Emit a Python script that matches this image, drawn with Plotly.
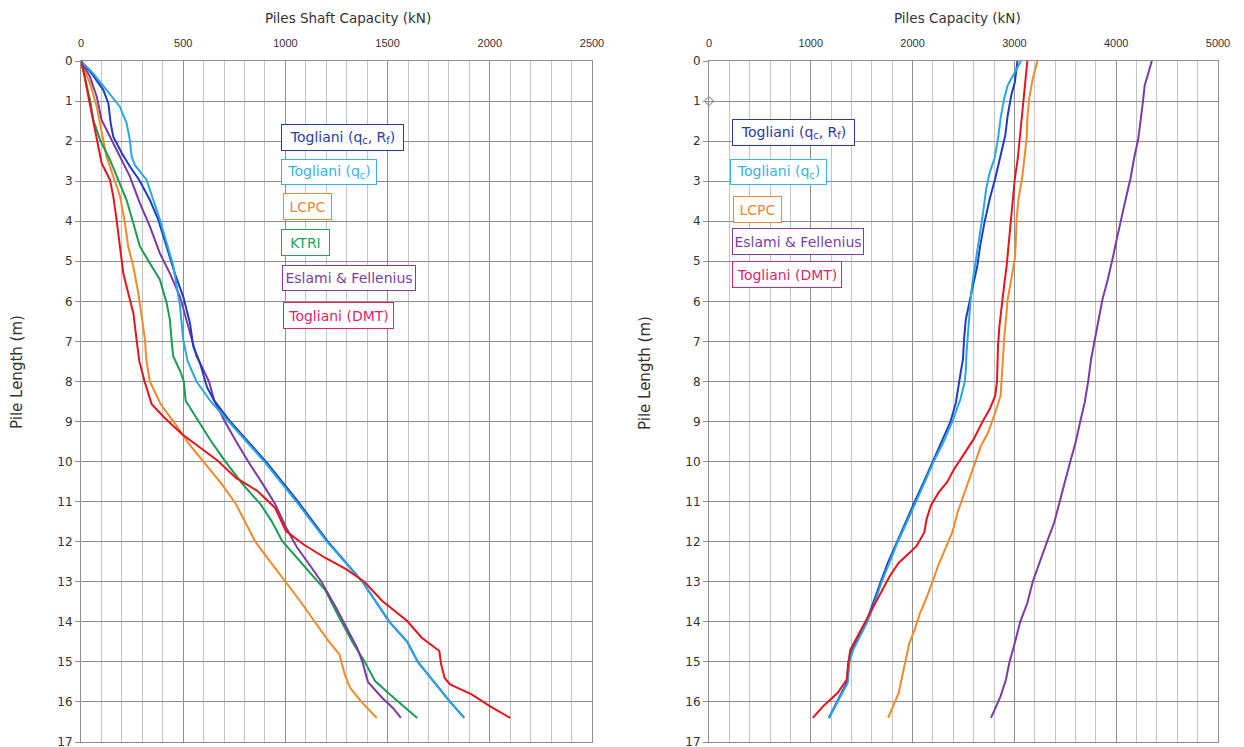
import plotly.graph_objects as go

W, H = 1244, 747

# ---------------- Left chart: Piles Shaft Capacity (kN) ----------------
sh_tq_rf_d = [0, 0.31, 0.72, 1.06, 1.55, 1.89, 2.3, 2.64, 2.97, 3.47, 3.96, 4.63, 5.3, 5.88, 6.54, 7.12, 7.54, 8.15, 8.48, 9, 9.48, 10, 11, 12, 13, 14, 14.5, 15, 15.5, 16, 16.4]
sh_tq_rf_v = [0, 52, 109, 134, 145, 158, 200, 240, 285, 337, 378, 419, 459, 500, 533, 549, 582, 617, 652, 730, 815, 905, 1062, 1208, 1377, 1509, 1596, 1648, 1727, 1806, 1875]

sh_tq_d = [0, 0.31, 0.72, 1.14, 1.55, 1.97, 2.39, 2.6, 2.97, 3.96, 5.1, 6.1, 6.95, 7.48, 8, 8.5, 9, 10, 11, 12, 13, 14, 14.5, 15, 15.5, 16, 16.4]
sh_tq_v = [0, 60, 125, 190, 223, 239, 248, 264, 321, 386, 451, 484, 500, 521, 565, 635, 722, 897, 1054, 1203, 1377, 1509, 1596, 1648, 1727, 1806, 1875]

sh_lcpc_d = [0, 0.56, 1.14, 1.8, 2.39, 2.88, 3.38, 4.05, 4.63, 5.13, 5.79, 6.38, 6.96, 7.48, 8, 8.57, 9.05, 9.57, 10, 10.55, 11.05, 11.56, 12, 12.54, 13, 13.48, 13.98, 14.48, 14.81, 15.31, 15.64, 15.98, 16.4]
sh_lcpc_v = [0, 44, 77, 101, 125, 158, 191, 215, 231, 256, 280, 297, 313, 320, 337, 390, 460, 530, 600, 687, 757, 809, 853, 932, 1002, 1072, 1141, 1211, 1264, 1290, 1316, 1369, 1447]

sh_ktri_d = [0, 0.47, 0.97, 1.47, 1.97, 2.47, 2.97, 3.47, 4.05, 4.63, 5.05, 5.46, 6.04, 6.46, 6.96, 7.37, 7.75, 8, 8.48, 8.9, 9.48, 9.98, 10.57, 11.07, 11.48, 11.98, 12.31, 12.62, 13.2, 13.9, 14.56, 14.98, 15.48, 15.8, 16.1, 16.4]
sh_ktri_v = [0, 20, 44, 60, 93, 142, 182, 223, 256, 288, 337, 386, 419, 435, 443, 451, 486, 503, 512, 565, 635, 704, 792, 879, 932, 984, 1040, 1095, 1194, 1264, 1334, 1386, 1439, 1509, 1578, 1645]

sh_ef_d = [0, 0.39, 0.89, 1.47, 1.89, 2.39, 2.88, 3.55, 4.13, 4.8, 5.3, 5.88, 6.46, 6.96, 7.37, 7.7, 8, 8.48, 9, 9.48, 10, 10.55, 11.05, 11.63, 12.12, 12.62, 13, 13.63, 14.15, 14.65, 15, 15.5, 15.9, 16.15, 16.4]
sh_ef_v = [0, 44, 77, 101, 142, 191, 239, 288, 337, 386, 435, 484, 516, 541, 565, 598, 626, 652, 704, 757, 818, 888, 949, 1002, 1054, 1124, 1176, 1246, 1299, 1351, 1377, 1404, 1474, 1526, 1565]

sh_dmt_d = [0, 0.31, 0.89, 1.47, 2.14, 2.55, 2.97, 3.38, 3.96, 4.63, 5.3, 5.79, 6.29, 6.96, 7.48, 8, 8.57, 8.9, 9.32, 9.65, 9.98, 10.4, 10.73, 11.15, 11.73, 12.07, 12.4, 12.69, 13, 13.48, 13.98, 14.39, 14.73, 15.06, 15.4, 15.56, 15.81, 16.1, 16.4]
sh_dmt_v = [0, 15, 36, 60, 85, 101, 142, 158, 174, 191, 207, 231, 256, 272, 285, 311, 346, 407, 495, 582, 669, 757, 862, 949, 1002, 1089, 1194, 1299, 1386, 1474, 1596, 1666, 1753, 1762, 1779, 1806, 1911, 1998, 2100]

# ---------------- Right chart: Piles Capacity (kN) ----------------
cp_tq_rf_d = [0, 0.53, 0.86, 1.36, 1.86, 2.19, 2.61, 2.94, 3.44, 4.03, 4.61, 5.11, 5.61, 6.11, 6.45, 6.95, 7.45, 7.7, 8, 8.53, 9, 9.52, 10, 10.52, 11, 11.52, 12, 12.53, 13, 13.53, 14, 14.7, 15, 15.52, 15.94, 16.4]
cp_tq_rf_v = [3030, 3004, 2969, 2934, 2910, 2881, 2846, 2811, 2758, 2706, 2664, 2636, 2593, 2548, 2523, 2505, 2495, 2477, 2460, 2425, 2372, 2284, 2196, 2108, 2021, 1933, 1845, 1757, 1687, 1616, 1546, 1406, 1370, 1353, 1265, 1177]

cp_tq_d = [0, 0.28, 0.61, 0.94, 1.44, 1.94, 2.44, 2.78, 3.19, 3.86, 4.44, 5.03, 5.61, 6.11, 6.61, 7.28, 7.7, 8, 8.44, 9, 9.52, 10, 10.52, 11, 11.52, 12, 12.53, 13, 13.53, 14, 14.7, 15, 15.52, 15.94, 16.4]
cp_tq_v = [3064, 3004, 2934, 2899, 2864, 2839, 2804, 2758, 2723, 2688, 2653, 2618, 2583, 2565, 2548, 2530, 2523, 2513, 2470, 2390, 2302, 2207, 2118, 2030, 1942, 1855, 1767, 1697, 1626, 1556, 1416, 1380, 1363, 1275, 1180]

cp_lcpc_d = [0, 0.44, 0.94, 1.44, 1.94, 2.44, 2.94, 3.44, 3.94, 4.44, 4.94, 5.45, 5.95, 6.45, 6.95, 7.7, 8, 8.36, 8.78, 9.28, 9.61, 10, 10.52, 10.86, 11.27, 11.77, 12.19, 12.61, 13, 13.36, 13.78, 14.19, 14.53, 14.94, 15.36, 15.78, 16.1, 16.4]
cp_lcpc_v = [3226, 3180, 3145, 3127, 3120, 3099, 3075, 3040, 3022, 3015, 3004, 2969, 2934, 2917, 2899, 2881, 2874, 2864, 2811, 2741, 2671, 2618, 2548, 2495, 2442, 2390, 2319, 2249, 2196, 2143, 2073, 2021, 1968, 1933, 1898, 1862, 1810, 1760]

cp_ef_d = [0, 0.36, 0.61, 1.03, 1.44, 1.94, 2.44, 2.94, 3.44, 3.94, 4.44, 4.94, 5.45, 5.95, 6.45, 6.95, 7.45, 8, 8.53, 9, 9.52, 10, 10.52, 11, 11.52, 12, 12.53, 13, 13.53, 14, 14.53, 15, 15.44, 15.86, 16.4]
cp_ef_v = [4350, 4305, 4280, 4262, 4241, 4217, 4175, 4140, 4094, 4048, 4006, 3964, 3918, 3865, 3830, 3795, 3753, 3725, 3690, 3647, 3602, 3549, 3496, 3444, 3391, 3321, 3250, 3180, 3127, 3057, 3004, 2952, 2917, 2864, 2770]

cp_dmt_d = [0, 0.44, 0.94, 1.44, 1.94, 2.44, 2.94, 3.44, 3.94, 4.61, 5.11, 5.61, 6.11, 6.61, 7.11, 7.7, 8, 8.36, 8.69, 9, 9.44, 9.85, 10.19, 10.52, 10.77, 11.1, 11.44, 11.77, 12.11, 12.28, 12.53, 12.86, 13.2, 13.61, 14, 14.36, 14.7, 15, 15.44, 15.77, 16.1, 16.4]
cp_dmt_v = [3127, 3110, 3092, 3075, 3057, 3033, 3004, 2987, 2969, 2945, 2924, 2899, 2874, 2853, 2839, 2832, 2829, 2811, 2758, 2688, 2600, 2495, 2407, 2337, 2256, 2179, 2137, 2115, 2038, 1968, 1862, 1775, 1704, 1616, 1529, 1458, 1388, 1370, 1353, 1265, 1124, 1020]

marker_x = [0]
marker_y = [1]

C_BLUE = "#1f3cc4"
C_CYAN = "#2aa7e0"
C_ORANGE = "#f08a2a"
C_GREEN = "#1c9c52"
C_PURPLE = "#7a3aa8"
C_RED = "#e8141c"

fig = go.Figure()

def add(x, y, color, xa, ya):
    fig.add_trace(go.Scatter(x=x, y=y, mode="lines", line=dict(color=color, width=2),
                             xaxis=xa, yaxis=ya, showlegend=False, hoverinfo="skip"))

# left
add(sh_lcpc_v, sh_lcpc_d, C_ORANGE, "x", "y")
add(sh_ktri_v, sh_ktri_d, C_GREEN, "x", "y")
add(sh_ef_v, sh_ef_d, C_PURPLE, "x", "y")
add(sh_tq_rf_v, sh_tq_rf_d, C_BLUE, "x", "y")
add(sh_tq_v, sh_tq_d, C_CYAN, "x", "y")
add(sh_dmt_v, sh_dmt_d, C_RED, "x", "y")
# right
add(cp_lcpc_v, cp_lcpc_d, C_ORANGE, "x2", "y2")
add(cp_ef_v, cp_ef_d, C_PURPLE, "x2", "y2")
add(cp_tq_rf_v, cp_tq_rf_d, C_BLUE, "x2", "y2")
add(cp_tq_v, cp_tq_d, C_CYAN, "x2", "y2")
add(cp_dmt_v, cp_dmt_d, C_RED, "x2", "y2")
fig.add_trace(go.Scatter(x=marker_x, y=marker_y, mode="markers", xaxis="x2", yaxis="y2",
                         marker=dict(symbol="diamond-open", size=7, color="#666", line=dict(width=1)),
                         cliponaxis=False, showlegend=False, hoverinfo="skip"))

GRID = "#8e8e8e"
MINOR = "#c4c4c4"
TICKF = dict(family="Liberation Sans, Arial", size=11, color="#333")
ydom = [1 - 742 / H, 1 - 61 / H]

def xaxis(dom, rng, dt, mdt, anchor):
    return dict(domain=dom, range=rng, side="top", dtick=dt, tick0=0, anchor=anchor, showgrid=True,
                gridcolor=GRID, gridwidth=1, zeroline=False, showline=True, linecolor=GRID,
                mirror=True, ticks="outside", ticklen=9, tickcolor="rgba(0,0,0,0)",
                tickfont=TICKF, fixedrange=True, automargin=False, ticklabeloverflow="allow",
                minor=dict(dtick=mdt, tick0=0, showgrid=True, gridcolor=MINOR, gridwidth=1, ticks=""))

def yaxis(anchor):
    return dict(domain=ydom, range=[17, 0], dtick=1, tick0=0, anchor=anchor, showgrid=True,
                gridcolor=GRID, gridwidth=1, zeroline=False, showline=True, linecolor=GRID,
                mirror=True, ticks="outside", ticklen=5, tickcolor=GRID, tickwidth=1,
                tickfont=dict(family="DejaVu Sans", size=12, color="#333"), fixedrange=True,
                automargin=False, ticklabeloverflow="allow")

fig.update_layout(
    width=W, height=H, margin=dict(l=0, r=0, t=0, b=0, autoexpand=False),
    paper_bgcolor="white", plot_bgcolor="white",
    xaxis=xaxis([81 / W, 592 / W], [0, 2500], 500, 100, "y"),
    yaxis=yaxis("x"),
    xaxis2=xaxis([709 / W, 1218 / W], [0, 5000], 1000, 200, "y2"),
    yaxis2=yaxis("x2"),
)

TF = "DejaVu Sans"
anns = [
    dict(text="Piles Shaft Capacity (kN)", x=348 / W, y=1 - 18 / H, xanchor="center", yanchor="middle",
         font=dict(family=TF, size=13.5, color="#333")),
    dict(text="Piles Capacity (kN)", x=957 / W, y=1 - 18 / H, xanchor="center", yanchor="middle",
         font=dict(family=TF, size=13.5, color="#333")),
    dict(text="Pile Length (m)", x=17 / W, y=1 - 372 / H, xanchor="center", yanchor="middle",
         textangle=-90, font=dict(family=TF, size=15, color="#333")),
    dict(text="Pile Length (m)", x=645 / W, y=1 - 373 / H, xanchor="center", yanchor="middle",
         textangle=-90, font=dict(family=TF, size=15, color="#333")),
]

T_BLUE = "#2b3c9e"
T_CYAN = "#36b4e2"
T_ORANGE = "#e8883a"
T_GREEN = "#26a25a"
T_PURPLE = "#7a3fa0"
T_PINK = "#e0246a"

boxes = [
    ("Togliani (q<sub>c</sub>, R<sub>f</sub>)", T_BLUE, 281, 404, 124, 151),
    ("Togliani (q<sub>c</sub>)", T_CYAN, 281, 377, 159, 185),
    ("LCPC", T_ORANGE, 283, 332, 193, 220),
    ("KTRI", T_GREEN, 281, 330, 229, 256),
    ("Eslami &amp; Fellenius", T_PURPLE, 282, 416, 265, 291),
    ("Togliani (DMT)", T_PINK, 283, 394, 302, 329),
    ("Togliani (q<sub>c</sub>, R<sub>f</sub>)", T_BLUE, 732, 855, 119, 146),
    ("Togliani (q<sub>c</sub>)", T_CYAN, 730, 827, 159, 185),
    ("LCPC", T_ORANGE, 733, 782, 196, 223),
    ("Eslami &amp; Fellenius", T_PURPLE, 732, 864, 228, 255),
    ("Togliani (DMT)", T_PINK, 732, 842, 261, 288),
]
for txt, col, x0, x1, y0, y1 in boxes:
    anns.append(dict(text=txt, x=x0 / W, y=1 - y0 / H, xanchor="left", yanchor="top",
                     width=x1 - x0 - 4, height=y1 - y0 - 4, align="center", valign="middle",
                     bordercolor=col, borderwidth=1, borderpad=1, bgcolor="white",
                     font=dict(family=TF, size=14, color=col)))

for a in anns:
    a.update(xref="paper", yref="paper", showarrow=False)
fig.update_layout(annotations=anns)

fig.write_html("out.html")
